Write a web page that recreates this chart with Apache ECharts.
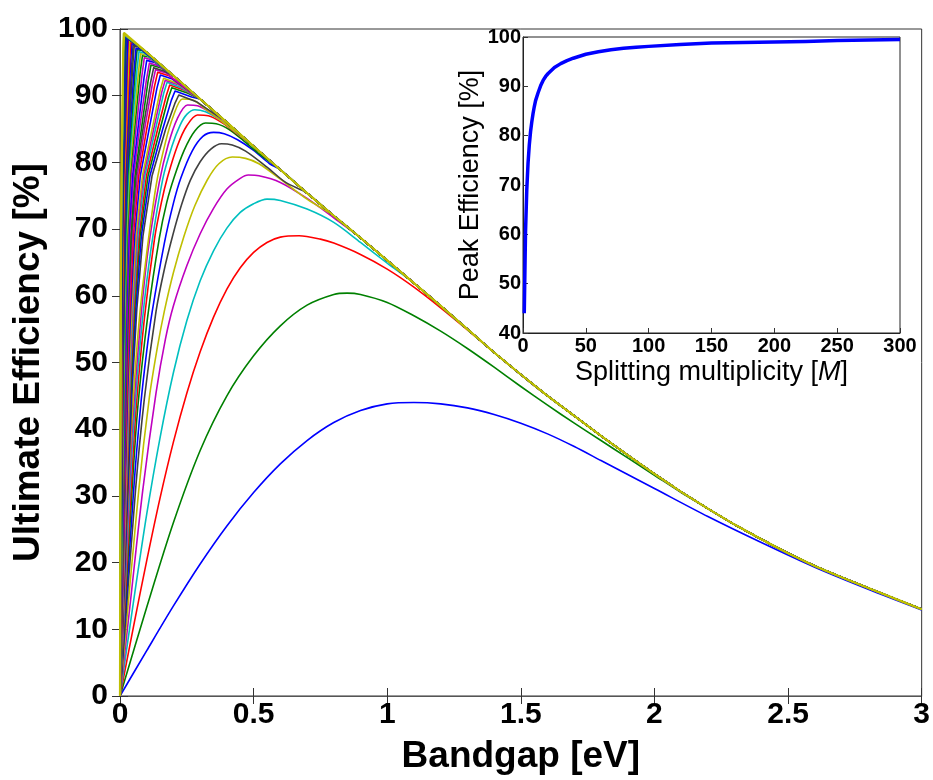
<!DOCTYPE html>
<html><head><meta charset="utf-8">
<script src="https://cdn.jsdelivr.net/npm/echarts@6/dist/echarts.min.js"></script>
<style>html,body{margin:0;padding:0;background:#fff}#c{width:933px;height:780px}</style>
</head><body><div id="c"></div><script>
// MATLAB classic colour order b g r c m y k
const lineColors = ['#0000ff','#008000','#ff0000','#00bfbf','#bf00bf','#bfbf00','#404040'];

// common upper envelope (large M limit), [bandgap eV, efficiency %]
const envelope = [[0.017,99.4],[0.1,96.5],[0.2,93.0],[0.3,89.5],[0.4,86.0],[0.5,82.4],[0.6,78.9],[0.7,75.4],[0.8,72.0],[0.9,68.7],[1.0,65.3],[1.1,61.9],[1.2,58.5],[1.3,55.0],[1.4,51.5],[1.5,48.2],[1.6,45.0],[1.7,42.0],[1.8,39.0],[1.9,36.1],[2.0,33.3],[2.1,30.6],[2.2,28.1],[2.3,25.7],[2.4,23.5],[2.5,21.4],[2.6,19.5],[2.7,17.8],[2.8,16.2],[2.9,14.6],[3.0,13.0]];

// individually readable curves, M = 1..13
const curveM = [1,2,3,4,5,6,7,8,9,10,11,12,13];
const curvePts = [
 [[0,0],[0.1,6.8],[0.2,13.5],[0.3,19.8],[0.4,25.5],[0.5,30.5],[0.6,34.8],[0.7,38.3],[0.8,41.0],[0.9,42.8],[1.0,43.8],[1.1,44.0],[1.2,43.8],[1.3,43.2],[1.4,42.2],[1.5,40.9],[1.6,39.3],[1.7,37.4],[1.8,35.3],[1.9,33.2],[2.0,31.1],[2.2,26.9],[2.4,23.0],[2.6,19.3],[2.8,16.0],[3.0,12.9]],
 [[0,0],[0.1,13.3],[0.2,26.0],[0.3,36.8],[0.4,45.0],[0.5,51.0],[0.6,55.5],[0.7,58.6],[0.8,60.2],[0.85,60.4],[0.9,60.2],[1.0,59.0],[1.1,57.0],[1.2,54.7],[1.3,52.1],[1.4,49.3],[1.5,46.4],[1.6,43.6],[1.7,40.9],[1.8,38.3],[1.9,35.7],[2.0,33.1],[2.1,30.5]],
 [[0,0],[0.05,10.3],[0.1,20.3],[0.15,29.7],[0.2,38.1],[0.25,45.4],[0.3,51.6],[0.35,56.8],[0.4,61.0],[0.45,64.2],[0.5,66.5],[0.55,68.0],[0.6,68.8],[0.67,69.0],[0.75,68.5],[0.8,67.9],[0.9,66.2],[1.0,64.0],[1.1,61.3],[1.2,58.2],[1.3,54.9],[1.4,51.5]],
 [[0,0],[0.05,14.0],[0.1,27.25],[0.15,38.75],[0.2,48.5],[0.25,56.25],[0.3,62.25],[0.35,66.75],[0.4,70.15],[0.45,72.5],[0.5,73.8],[0.55,74.5],[0.6,74.3],[0.7,73.0],[0.8,71.0],[0.9,68.0],[1.0,64.9]],
 [[0,0],[0.04,14.5],[0.085,30.8],[0.135,45.5],[0.17,53.5],[0.2,58.5],[0.25,64.5],[0.3,69.3],[0.35,73.1],[0.4,76.0],[0.45,77.6],[0.48,78.1],[0.52,78.0],[0.6,77.0],[0.7,74.6],[0.8,71.7]],
 [[0,0],[0.07,30.8],[0.11,44.8],[0.14,52.3],[0.166,57.7],[0.2,63.5],[0.24,69.0],[0.28,73.5],[0.327,77.4],[0.37,79.8],[0.42,80.8],[0.47,80.6],[0.52,79.8],[0.6,77.5],[0.7,74.5]],
 [[0,0],[0.058,30.8],[0.091,44.5],[0.135,57.7],[0.165,63.8],[0.197,69.0],[0.23,73.6],[0.263,77.3],[0.3,80.1],[0.34,82.0],[0.38,82.8],[0.42,82.6],[0.47,81.7],[0.55,79.3],[0.62,77.0]],
 [[0,0],[0.051,30.8],[0.078,43.8],[0.1,51.7],[0.12,57.5],[0.166,67.9],[0.2,73.9],[0.228,77.7],[0.27,81.7],[0.31,83.9],[0.35,84.5],[0.39,84.3],[0.44,83.4],[0.5,81.8],[0.56,79.8]],
 [[0,0],[0.045,30.8],[0.067,43.5],[0.104,57.0],[0.147,68.6],[0.175,74.0],[0.203,77.8],[0.24,81.8],[0.28,84.7],[0.32,85.9],[0.36,85.8],[0.41,84.9],[0.47,83.0],[0.52,81.3]],
 [[0,0],[0.041,30.8],[0.06,43.0],[0.091,56.5],[0.129,68.5],[0.155,74.0],[0.178,77.8],[0.215,82.5],[0.25,85.5],[0.29,87.1],[0.33,87.0],[0.38,86.0],[0.44,84.2]],
 [[0,0],[0.037,30.8],[0.055,42.8],[0.083,56.0],[0.116,67.0],[0.16,77.5],[0.195,82.5],[0.225,85.6],[0.25,87.2],[0.28,87.9],[0.32,87.6],[0.37,86.5],[0.42,84.9]],
 [[0,0],[0.034,30.8],[0.05,42.5],[0.076,55.8],[0.104,66.5],[0.147,77.0],[0.18,82.6],[0.215,86.6],[0.253,88.6],[0.29,88.5],[0.34,87.4],[0.4,85.6]],
 [[0,0],[0.031,30.8],[0.046,42.3],[0.07,55.5],[0.095,64.8],[0.135,76.5],[0.17,83.0],[0.2,87.0],[0.234,89.5],[0.27,89.4],[0.32,88.0],[0.38,86.2]]
];

// densely packed curves near the origin (a readable subset of M = 14..300)
const denseM = [14,15,16,17,18,19,20,22,24,26,28,30,33,36,40,44,48,53,58,64,70,77,85,94,104,115,127,140,155,170,190,210,235,265,300];
const densePts = [
 [[0,0],[0.030,31],[0.0457,46],[0.063,58],[0.086,69],[0.120,78],[0.171,85],[0.205,88.8],[0.22,90.1],[0.286,89.1]],
 [[0,0],[0.028,31],[0.0427,46],[0.059,58],[0.080,69],[0.112,78],[0.160,85],[0.192,89.3],[0.206,90.7],[0.268,89.8]],
 [[0,0],[0.026,31],[0.040,46],[0.055,58],[0.075,69],[0.105,78],[0.150,85],[0.181,89.7],[0.194,91.2],[0.252,90.4]],
 [[0,0],[0.025,31],[0.0376,46],[0.052,58],[0.071,69],[0.099,78],[0.141,85],[0.173,90.0],[0.186,91.6],[0.242,90.8]],
 [[0,0],[0.023,31],[0.0356,46],[0.049,58],[0.067,69],[0.093,78],[0.133,85],[0.163,90.3],[0.176,92.0],[0.229,91.2]],
 [[0,0],[0.022,31],[0.0337,46],[0.046,58],[0.063,69],[0.088,78],[0.126,85],[0.156,90.5],[0.169,92.3],[0.220,91.6]],
 [[0,0],[0.021,31],[0.032,46],[0.044,58],[0.060,69],[0.084,78],[0.120,85],[0.150,90.7],[0.163,92.6],[0.212,91.9]],
 [[0,0],[0.019,31],[0.0291,46],[0.040,58],[0.055,69],[0.076,78],[0.109,85],[0.138,91.1],[0.151,93.1],[0.196,92.5]],
 [[0,0],[0.0175,31],[0.0267,46],[0.037,58],[0.050,69],[0.070,78],[0.100,85],[0.129,91.4],[0.141,93.5],[0.183,93.0]],
 [[0,0],[0.016,31],[0.0246,46],[0.034,58],[0.046,69],[0.065,78],[0.092,85],[0.121,91.7],[0.133,93.9],[0.173,93.4]],
 [[0,0],[0.015,31],[0.0229,46],[0.031,58],[0.043,69],[0.060,78],[0.086,85],[0.114,91.9],[0.126,94.2],[0.164,93.7]],
 [[0,0],[0.014,31],[0.0213,46],[0.029,58],[0.040,69],[0.056,78],[0.080,85],[0.105,92.2],[0.116,94.6],[0.151,94.2]],
 [[0,0],[0.0127,31],[0.0194,46],[0.0267,58],[0.036,69],[0.051,78],[0.073,85],[0.099,92.4],[0.110,94.9],[0.143,94.5]],
 [[0,0],[0.0117,31],[0.0178,46],[0.0244,58],[0.033,69],[0.047,78],[0.067,85],[0.090,92.7],[0.100,95.3],[0.130,95.0]],
 [[0,0],[0.0105,31],[0.016,46],[0.022,58],[0.030,69],[0.042,78],[0.060,85],[0.082,93.0],[0.091,95.7],[0.118,95.4]],
 [[0,0],[0.0095,31],[0.0145,46],[0.020,58],[0.0273,69],[0.038,78],[0.0545,85],[0.075,93.3],[0.084,96.0],[0.109,95.8]],
 [[0,0],[0.0088,31],[0.0133,46],[0.0183,58],[0.025,69],[0.035,78],[0.050,85],[0.069,93.5],[0.077,96.3],[0.100,96.1]],
 [[0,0],[0.0079,31],[0.0121,46],[0.0166,58],[0.0226,69],[0.0317,78],[0.0453,85],[0.063,93.7],[0.071,96.6],[0.092,96.4]],
 [[0,0],[0.0072,31],[0.011,46],[0.0152,58],[0.0207,69],[0.029,78],[0.0414,85],[0.057,93.9],[0.064,96.9],[0.083,96.8]],
 [[0,0],[0.0066,31],[0.010,46],[0.0138,58],[0.0188,69],[0.0263,78],[0.0375,85],[0.053,94.1],[0.060,97.1],[0.078,97.0]],
 [[0,0],[0.006,31],[0.0091,46],[0.0126,58],[0.0171,69],[0.024,78],[0.0343,85],[0.0474,94.3],[0.053,97.4],[0.069,97.3]],
 [[0,0],[0.0055,31],[0.0083,46],[0.0114,58],[0.0156,69],[0.0218,78],[0.0312,85],[0.0437,94.5],[0.049,97.6],[0.064,97.5]],
 [[0,0],[0.0049,31],[0.0075,46],[0.0104,58],[0.0141,69],[0.0198,78],[0.0282,85],[0.0393,94.6],[0.044,97.8],[0.057,97.7]],
 [[0,0],[0.0045,31],[0.0068,46],[0.0094,58],[0.0128,69],[0.0179,78],[0.0255,85],[0.0357,94.8],[0.040,98.0],[0.052,97.9]],
 [[0,0],[0.004,31],[0.0062,46],[0.0085,58],[0.0115,69],[0.0162,78],[0.0231,85],[0.0321,94.9],[0.036,98.2],[0.047,98.1]],
 [[0,0],[0.0037,31],[0.0056,46],[0.0077,58],[0.0104,69],[0.0146,78],[0.0209,85],[0.028,95.0],[0.031,98.4],[0.041,98.35]],
 [[0,0],[0.0033,31],[0.005,46],[0.0069,58],[0.0094,69],[0.0132,78],[0.0189,85],[0.026,95.1],[0.029,98.5],[0.038,98.45]],
 [[0,0],[0.003,31],[0.0046,46],[0.0063,58],[0.0086,69],[0.012,78],[0.0171,85],[0.022,95.3],[0.024,98.7],[0.031,98.7]],
 [[0,0],[0.0027,31],[0.0041,46],[0.0057,58],[0.0077,69],[0.0108,78],[0.0155,85],[0.020,95.4],[0.022,98.8],[0.029,98.8]],
 [[0,0],[0.0025,31],[0.0038,46],[0.0052,58],[0.0071,69],[0.0099,78],[0.0141,85],[0.0182,95.4],[0.020,98.9],[0.026,98.9]],
 [[0,0],[0.0022,31],[0.0034,46],[0.0046,58],[0.0063,69],[0.0088,78],[0.0126,85],[0.0164,95.5],[0.018,99.0],[0.0234,99.0]],
 [[0,0],[0.002,31],[0.003,46],[0.0042,58],[0.0057,69],[0.008,78],[0.0114,85],[0.0146,95.6],[0.016,99.1],[0.021,99.1]],
 [[0,0],[0.0018,31],[0.0027,46],[0.0037,58],[0.0051,69],[0.0071,78],[0.0102,85],[0.0129,95.7],[0.014,99.2],[0.018,99.2]],
 [[0,0],[0.0016,31],[0.0024,46],[0.0033,58],[0.0045,69],[0.0063,78],[0.0091,85],[0.0118,95.7],[0.013,99.3],[0.017,99.3]],
 [[0,0],[0.0014,31],[0.0021,46],[0.0029,58],[0.004,69],[0.0056,78],[0.008,85],[0.012,96.5],[0.016,99.4]]
];

// inset: peak efficiency vs splitting multiplicity
const splitM  = [1,2,3,4,5,6,7,8,9,10,12,14,16,18,20,25,30,35,40,50,60,70,80,90,100,125,150,175,200,225,250,275,300];
const peakEff = [44.0,60.4,69.0,74.4,78.1,80.8,82.8,84.5,85.9,87.1,88.7,90.1,91.2,92.0,92.6,93.8,94.6,95.2,95.7,96.5,97.0,97.4,97.7,97.9,98.1,98.5,98.8,98.9,99.0,99.1,99.3,99.4,99.5];

const FONT = '"Liberation Sans", Arial, Helvetica, sans-serif';

function withEnvelope(pts){
  const last = pts[pts.length-1][0];
  return pts.concat(envelope.filter(p => p[0] > last + 0.03));
}

const series = [];
curveM.forEach((m,i)=>{
  series.push({type:'line', xAxisIndex:0, yAxisIndex:0, data: withEnvelope(curvePts[i]),
    showSymbol:false, symbol:'none', smooth:0.3, silent:true, animation:false,
    lineStyle:{width:1.6, color: lineColors[(m-1)%7], join:'round'}, z:2});
});
denseM.forEach((m,i)=>{
  series.push({type:'line', xAxisIndex:0, yAxisIndex:0, data: withEnvelope(densePts[i]),
    showSymbol:false, symbol:'none', smooth:false, silent:true, animation:false,
    lineStyle:{width: m===300 ? 2.2 : 1.6, color: lineColors[(m-1)%7], join:'round'}, z:2});
});
series.push({type:'line', xAxisIndex:2, yAxisIndex:2, data: splitM.map((m,i)=>[m, peakEff[i]]),
  showSymbol:false, symbol:'none', smooth:false, silent:true, animation:false,
  lineStyle:{width:3.5, color:'#0000ff', join:'round'}, z:6});

const tickStyle = {lineStyle:{color:'#333', width:1}};
const chart = echarts.init(document.getElementById('c'), null, {renderer:'canvas'});
chart.setOption({
  backgroundColor:'#ffffff',
  animation:false,
  grid:[
    {left:120, right:8, top:29, bottom:71, show:true, borderColor:'#333', borderWidth:1, backgroundColor:'transparent'},
    {left:523, right:33, top:37, bottom:447, show:true, borderColor:'#222', borderWidth:1, backgroundColor:'#ffffff', z:5}
  ],
  xAxis:[
    {gridIndex:0, type:'value', min:0, max:3, interval:0.5, position:'bottom',
     axisLine:{show:true, lineStyle:{color:'#222'}}, axisTick:{inside:true, length:8, ...tickStyle},
     axisLabel:{color:'#000', fontSize:30, fontWeight:'bold', fontFamily:FONT, margin:4, showMinLabel:true, showMaxLabel:true},
     splitLine:{show:false},
     name:'Bandgap [eV]', nameLocation:'middle', nameGap:42,
     nameTextStyle:{color:'#000', fontSize:37, fontWeight:'bold', fontFamily:FONT}},
    {gridIndex:0, type:'value', min:0, max:3, interval:0.5, position:'top',
     axisLine:{show:true, lineStyle:{color:'#555'}}, axisTick:{inside:true, length:8, ...tickStyle},
     axisLabel:{show:false}, splitLine:{show:false}},
    {gridIndex:1, type:'value', min:0, max:300, interval:50, position:'bottom', z:6,
     axisLine:{show:true, lineStyle:{color:'#222'}}, axisTick:{inside:true, length:5, ...tickStyle},
     axisLabel:{color:'#000', fontSize:20, fontWeight:'bold', fontFamily:FONT, margin:3, showMinLabel:true, showMaxLabel:true},
     splitLine:{show:false},
     name:'Splitting multiplicity [{i|M}]', nameLocation:'middle', nameGap:26,
     nameTextStyle:{color:'#000', fontSize:27, fontFamily:FONT, rich:{i:{fontStyle:'italic', fontSize:27, fontFamily:FONT, color:'#000'}}}}
  ],
  yAxis:[
    {gridIndex:0, type:'value', min:0, max:100, interval:10, position:'left',
     axisLine:{show:true, lineStyle:{color:'#222'}}, axisTick:{inside:true, length:8, ...tickStyle},
     axisLabel:{color:'#000', fontSize:30, fontWeight:'bold', fontFamily:FONT, margin:12, showMinLabel:true, showMaxLabel:true},
     splitLine:{show:false},
     name:'Ultimate Efficiency [%]', nameLocation:'middle', nameGap:58,
     nameTextStyle:{color:'#000', fontSize:37, fontWeight:'bold', fontFamily:FONT}},
    {gridIndex:0, type:'value', min:0, max:100, interval:10, position:'right',
     axisLine:{show:true, lineStyle:{color:'#555'}}, axisTick:{inside:true, length:8, ...tickStyle},
     axisLabel:{show:false}, splitLine:{show:false}},
    {gridIndex:1, type:'value', min:40, max:100, interval:10, position:'left', z:6,
     axisLine:{show:true, lineStyle:{color:'#222'}}, axisTick:{inside:true, length:5, ...tickStyle},
     axisLabel:{color:'#000', fontSize:20, fontWeight:'bold', fontFamily:FONT, margin:2, showMinLabel:true, showMaxLabel:true},
     splitLine:{show:false},
     name:'Peak Efficiency [%]', nameLocation:'middle', nameGap:23,
     nameTextStyle:{color:'#000', fontSize:27, fontFamily:FONT}}
  ],
  series: series
});
</script></body></html>
